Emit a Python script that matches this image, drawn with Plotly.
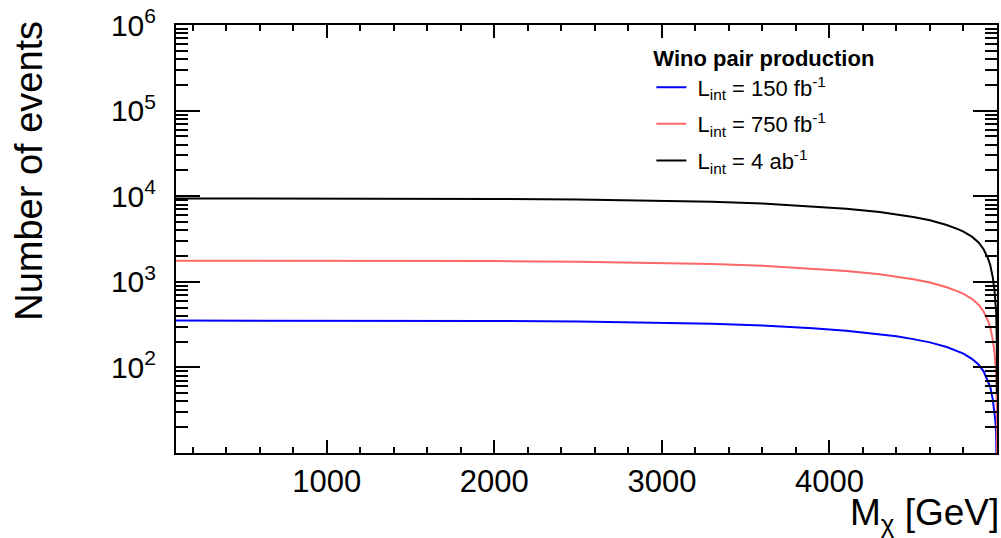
import plotly.graph_objects as go

# Wino mass [GeV]
mass = [100, 500, 1000, 1500, 2000, 2500, 3000, 3300, 3600, 3900, 4100, 4300, 4400,
        4500, 4600, 4700, 4770, 4800, 4850, 4890, 4920, 4945, 4960, 4975, 4985,
        4990, 4995, 4999, 5000]
# Number of events
events_150fb = [352, 352, 352, 351, 349, 344, 333, 323, 308, 287, 268, 245, 231,
                214, 196, 173, 154, 145, 126, 108, 90, 71, 59, 42, 30,
                24, 16.5, 7, 2]
events_750fb = [1762, 1762, 1761, 1755, 1744, 1719, 1665, 1616, 1541, 1434, 1341, 1226, 1153,
                1069, 981, 863, 769, 724, 632, 540, 450, 356, 293, 210, 150,
                122, 83, 36, 9]
events_4ab = [9400, 9400, 9390, 9360, 9300, 9170, 8880, 8620, 8220, 7650, 7150, 6540, 6150,
              5700, 5230, 4600, 4100, 3860, 3370, 2880, 2400, 1900, 1560, 1120, 800,
              650, 440, 190, 50]

series_names = ["\u00a0L<sub>int</sub> = 150 fb<sup>-1</sup>",
                "\u00a0L<sub>int</sub> = 750 fb<sup>-1</sup>",
                "\u00a0L<sub>int</sub> = 4 ab<sup>-1</sup>"]
series_colors = ["#0000ff", "#ff6666", "#000000"]

x_tickvals = [1000, 2000, 3000, 4000]
x_ticktext = ["1000", "2000", "3000", "4000"]
y_tickvals = [1e2, 1e3, 1e4, 1e5, 1e6]
y_ticktext = ["10<sup>2</sup>", "10<sup>3</sup>", "10<sup>4</sup>", "10<sup>5</sup>", "10<sup>6</sup>"]
y_minorvals = [m * 10 ** e for e in range(1, 6) for m in range(2, 10)]
x_minorvals = [v for v in range(200, 5000, 200) if v % 1000 != 0]

FONT = "Liberation Sans, Arial, Helvetica, sans-serif"

fig = go.Figure()
for i, (name, col, ys) in enumerate(zip(series_names, series_colors,
                                        [events_150fb, events_750fb, events_4ab])):
    fig.add_trace(go.Scatter(x=mass, y=ys, mode="lines", name=name,
                             legendgroup=f"g{i}",
                             line=dict(color=col, width=2)))

fig.update_layout(
    width=1001, height=538,
    margin=dict(l=176, r=2, t=25, b=85),
    paper_bgcolor="white", plot_bgcolor="white",
    font=dict(family=FONT, color="black"),
    showlegend=True,
    legend=dict(
        x=0.579, y=0.97, xanchor="left", yanchor="top",
        bgcolor="rgba(255,255,255,0)",
        font=dict(size=22, family=FONT, color="black"),
        title=dict(text="<b>Wino pair production</b>", font=dict(size=22, family=FONT)),
        tracegroupgap=5,
    ),
    xaxis=dict(
        range=[100, 5000],
        showline=True, linecolor="black", linewidth=2, mirror="ticks",
        ticks="inside", ticklen=13, tickwidth=2, tickcolor="black",
        tickmode="array", tickvals=x_tickvals, ticktext=x_ticktext,
        tickfont=dict(size=31, family=FONT, color="black"),
        minor=dict(ticks="inside", ticklen=6, tickwidth=2, tickcolor="black",
                   tickmode="array", tickvals=x_minorvals),
        showgrid=False, zeroline=False,
        ticklabelstandoff=0, ticklabeloverflow="allow",
    ),
    yaxis=dict(
        type="log", range=[1, 6],
        showline=True, linecolor="black", linewidth=2, mirror="ticks",
        ticks="inside", ticklen=24, tickwidth=2, tickcolor="black",
        tickmode="array", tickvals=y_tickvals, ticktext=y_ticktext,
        tickfont=dict(size=30, family=FONT, color="black"),
        minor=dict(ticks="inside", ticklen=12, tickwidth=2, tickcolor="black",
                   tickmode="array", tickvals=y_minorvals),
        showgrid=False, zeroline=False,
        ticklabelstandoff=12, ticklabeloverflow="allow",
    ),
    annotations=[
        dict(text="Number of events", textangle=-90, xref="paper", yref="paper",
             x=-0.18, y=1.015, xanchor="center", yanchor="top", showarrow=False,
             font=dict(size=38, family=FONT, color="black")),
        dict(text="M<sub>χ</sub> [GeV]", xref="paper", yref="paper",
             x=1.005, y=-0.203, xanchor="right", yanchor="bottom", showarrow=False,
             font=dict(size=37, family=FONT, color="black")),
    ],
)

fig.write_html(
    "out.html",
    config={"displayModeBar": False},
    post_script=("document.body.style.margin='0px';"
                 "document.body.style.overflow='hidden';"
                 "document.documentElement.style.overflow='hidden';"),
)
